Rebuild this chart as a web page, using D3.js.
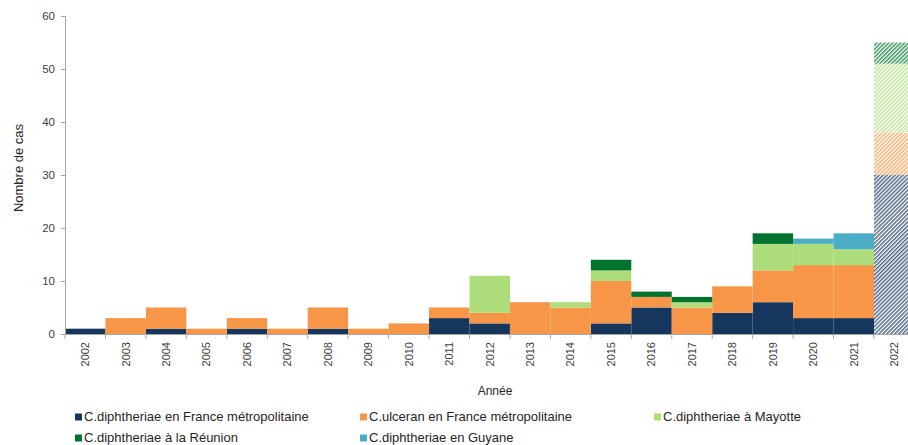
<!DOCTYPE html>
<html><head><meta charset="utf-8">
<script src="https://cdn.jsdelivr.net/npm/d3@7"></script>
<style>body{margin:0;background:#fff}svg{display:block;font-family:"Liberation Sans",Arial,sans-serif}</style>
</head><body><svg id="c" width="908" height="445"></svg>
<script>
const years = ["2002","2003","2004","2005","2006","2007","2008","2009","2010","2011","2012","2013","2014","2015","2016","2017","2018","2019","2020","2021","2022"];
const dipMetro   = [1,0,1,0,1,0,1,0,0,3,2,0,0,2,5,0,4,6,3,3,30];
const ulcMetro   = [0,3,4,1,2,1,4,1,2,2,2,6,5,8,2,5,5,6,10,10,8];
const dipMayotte = [0,0,0,0,0,0,0,0,0,0,7,0,1,2,0,1,0,5,4,3,13];
const dipReunion = [0,0,0,0,0,0,0,0,0,0,0,0,0,2,1,1,0,2,0,0,4];
const dipGuyane  = [0,0,0,0,0,0,0,0,0,0,0,0,0,0,0,0,0,0,1,3,0];
const seriesNames = ["C.diphtheriae en France métropolitaine","C.ulceran en France métropolitaine","C.diphtheriae à Mayotte","C.diphtheriae à la Réunion","C.diphtheriae en Guyane"];
const yTicks = [0,10,20,30,40,50,60];
const hatchedYear = "2022";

const colors = ["#17365d","#f79646","#addc7b","#00732f","#4bacc6"];
const keys = ["dip","ulc","may","reu","guy"];
const table = years.map((y,i)=>({year:y,dip:dipMetro[i],ulc:ulcMetro[i],may:dipMayotte[i],reu:dipReunion[i],guy:dipGuyane[i]}));

const svg = d3.select("#c");
const defs = svg.append("defs");
colors.forEach((c,i)=>{
  const p = defs.append("pattern").attr("id","h"+i).attr("patternUnits","userSpaceOnUse")
    .attr("width",2.8).attr("height",2.8).attr("patternTransform","rotate(45)");
  p.append("rect").attr("width",2.8).attr("height",2.8).attr("fill","#fff");
  p.append("rect").attr("width",1.5).attr("height",2.8).attr("fill",c).attr("opacity",0.75);
});

const x = d3.scaleBand().domain(years).range([65, 65+21*40.45]).padding(0);
const y = d3.scaleLinear().domain([0,60]).range([334,16]);

const stack = d3.stack().keys(keys)(table);
svg.append("g").selectAll("g").data(stack).join("g")
  .each(function(s,si){
    d3.select(this).selectAll("rect").data(s).join("rect")
      .attr("x",d=>x(d.data.year)).attr("width",x.bandwidth())
      .attr("y",d=>y(d[1])).attr("height",d=>y(d[0])-y(d[1]))
      .attr("fill",d=>d.data.year===hatchedYear?`url(#h${si})`:colors[si]);
  });

const axisColor = "#a6a6a6";
// y axis
const ya = svg.append("g").attr("transform","translate(65,0)")
  .call(d3.axisLeft(y).tickValues(yTicks).tickSize(4).tickPadding(6));
ya.select(".domain").attr("stroke",axisColor);
ya.selectAll(".tick line").attr("stroke",axisColor);
ya.selectAll("text").attr("fill","#404040").attr("font-size","11.5px").attr("font-family","Liberation Sans, Arial, sans-serif");

// x axis
const xa = svg.append("g").attr("transform","translate(0,334)")
  .call(d3.axisBottom(x).tickSize(0).tickPadding(0));
xa.select(".domain").attr("stroke",axisColor);
xa.selectAll("text").attr("fill","#404040").attr("font-size","11px").attr("font-family","Liberation Sans, Arial, sans-serif")
  .attr("transform","rotate(-90)").attr("text-anchor","end").attr("dy","0.35em").attr("x",-8).attr("y",0);
// category separators
svg.append("g").selectAll("line").data(years.concat(["end"])).join("line")
  .attr("x1",(d,i)=>65+i*x.bandwidth()).attr("x2",(d,i)=>65+i*x.bandwidth())
  .attr("y1",334).attr("y2",339).attr("stroke",axisColor);

// axis titles
svg.append("text").attr("transform","translate(23,168) rotate(-90)").attr("text-anchor","middle")
  .attr("font-size","13px").attr("fill","#262626").text("Nombre de cas");
svg.append("text").attr("x",495).attr("y",395).attr("text-anchor","middle")
  .attr("font-size","12px").attr("fill","#262626").text("Année");

// legend
const legPos = [[75,421],[360,421],[654,421],[75,442],[360,442]];
const lg = svg.append("g").selectAll("g").data(seriesNames).join("g")
  .attr("transform",(d,i)=>`translate(${legPos[i][0]},${legPos[i][1]})`);
lg.append("rect").attr("x",0).attr("y",-7.5).attr("width",7).attr("height",7).attr("fill",(d,i)=>colors[i]);
lg.append("text").attr("x",9).attr("y",0).attr("font-size","13px").attr("fill","#262626").text(d=>d);
</script></body></html>
